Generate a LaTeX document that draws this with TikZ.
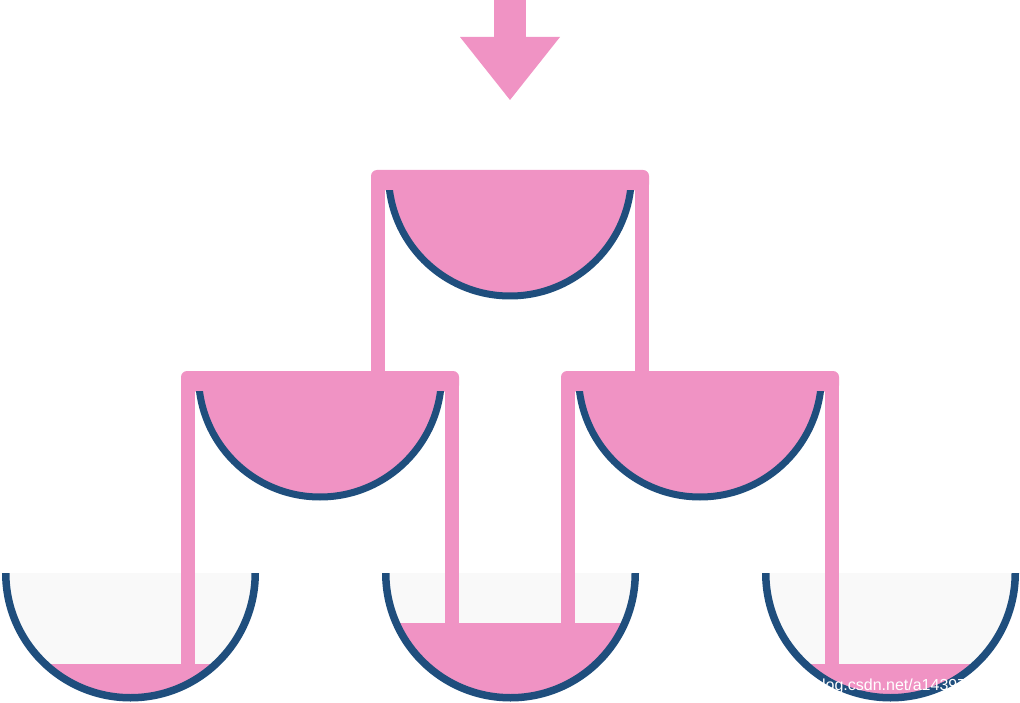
\documentclass[tikz,border=0pt]{standalone}
\usepackage{fontspec}
\newfontfamily\wmfont{Liberation Sans}
\definecolor{bpink}{RGB}{240,147,196}
\definecolor{bblue}{RGB}{31,78,125}
\definecolor{bgray}{RGB}{249,249,249}
\tikzset{
  pinkfill/.style={fill=bpink},
  rimline/.style={draw=bblue, line width=7pt},
  lowrim/.style={draw=bblue, line width=7.5pt},
  bowlbar/.style={fill=bpink, rounded corners=6pt},
  emptyfill/.style={fill=bgray},
  watermark/.style={text=white, font=\wmfont\fontsize{16}{16}\selectfont, inner sep=0pt, anchor=base west}
}
% full bowl: centre x, top of bar
\newcommand\fullbowl[2]{%
  \fill[bowlbar] ({#1-139},#2) rectangle ({#1+139},{#2+20.5});
  \begin{scope}
    \clip ({#1-140},{#2+20.5}) rectangle ({#1+140},{#2+140});
    \fill[pinkfill] (#1,{#2+4.5}) circle[radius=121.5];
    \draw[rimline] (#1,{#2+4.5}) circle[radius=121.5];
  \end{scope}}
% lower bowl background and liquid: centre x, liquid top
\newcommand\lowbowlfill[2]{%
  \begin{scope}
    \clip ({#1-135},573) rectangle ({#1+135},710);
    \fill[emptyfill] (#1,573) circle[radius=124.75];
  \end{scope}
  \begin{scope}
    \clip ({#1-135},#2) rectangle ({#1+135},710);
    \fill[pinkfill] (#1,573) circle[radius=124.75];
  \end{scope}}
\newcommand\lowbowlrim[1]{%
  \begin{scope}
    \clip ({#1-140},573) rectangle ({#1+140},710);
    \draw[lowrim] (#1,573) circle[radius=124.75];
  \end{scope}}
\begin{document}
\begin{tikzpicture}[x=1pt,y=-1pt]
\useasboundingbox (0,0) rectangle (1020,703);
% arrow
\fill[pinkfill] (494,0) rectangle (526,38);
\fill[pinkfill] (460,37) -- (560,37) -- (510,100) -- cycle;
% lower bowls: background and liquid
\lowbowlfill{130.5}{664}
\lowbowlfill{510.5}{623}
\lowbowlfill{890.5}{664}
% legs
\fill[pinkfill] (371,176) rectangle (385,380);
\fill[pinkfill] (635,176) rectangle (649,380);
\fill[pinkfill] (181,377) rectangle (195,670);
\fill[pinkfill] (445,377) rectangle (459,630);
\fill[pinkfill] (561,377) rectangle (575,630);
\fill[pinkfill] (825,377) rectangle (839,670);
% full bowls
\fullbowl{510}{170}
\fullbowl{320}{371}
\fullbowl{700}{371}
% lower rims
\lowbowlrim{130.5}
\lowbowlrim{510.5}
\lowbowlrim{890.5}
% watermark
\begin{scope}
  \clip (761,573) rectangle (1020,703);
  \clip (890.5,573) circle[radius=128.5];
  \node[watermark] (wm) at (813,690) {blog.csdn.net/a1439775520};
\end{scope}
\end{tikzpicture}
\end{document}
